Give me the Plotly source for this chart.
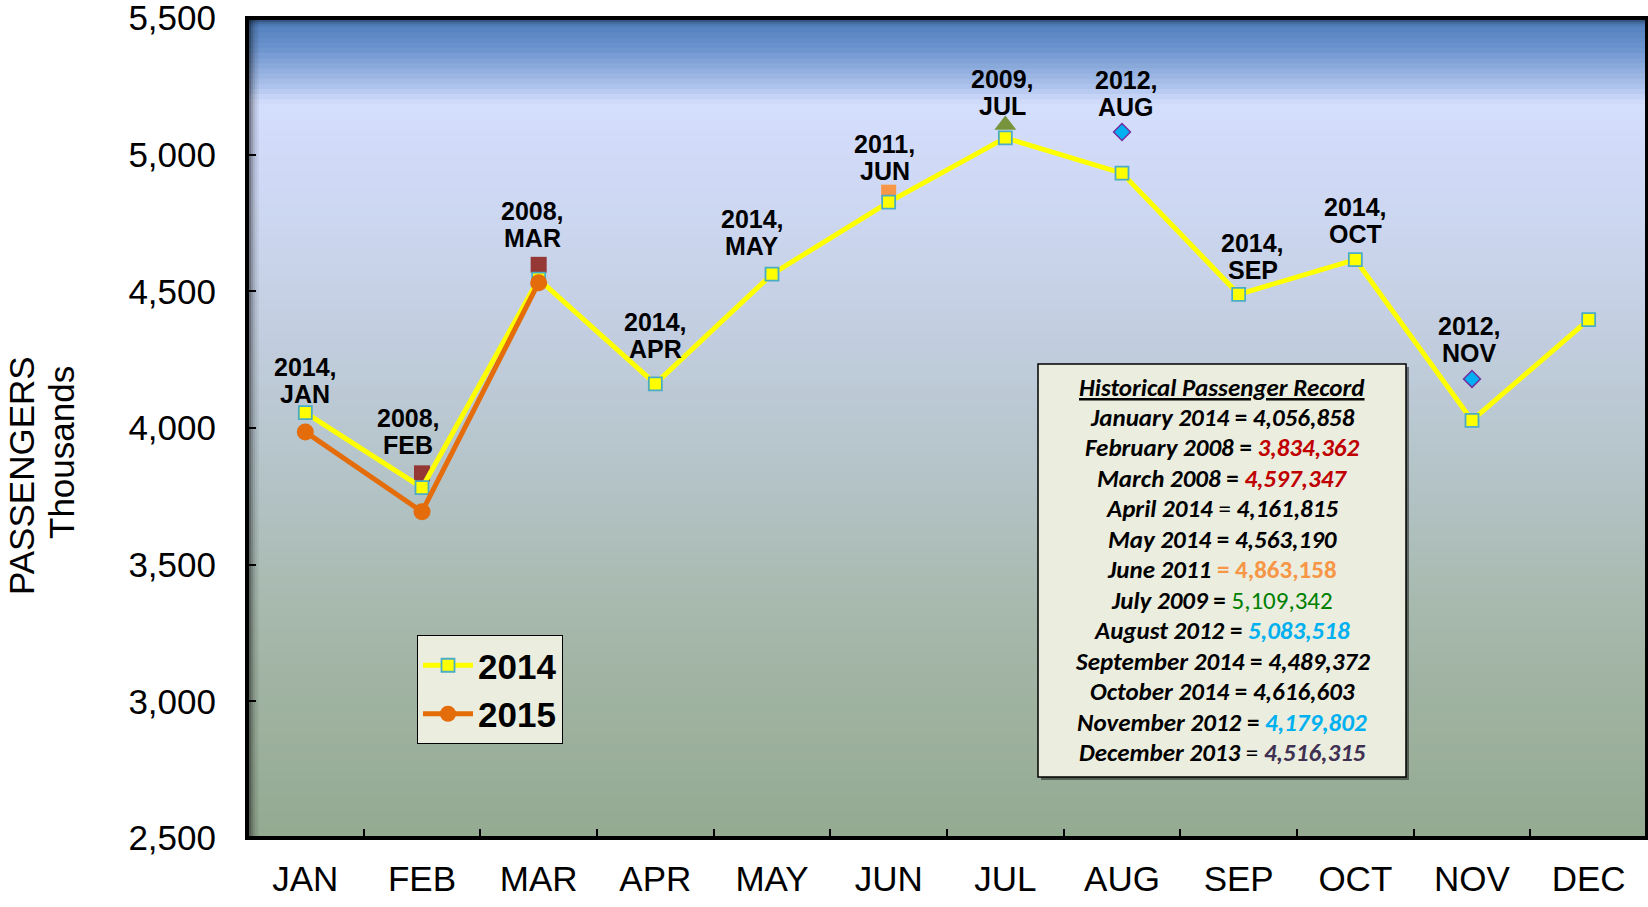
import plotly.graph_objects as go

# ---------------- data ----------------
months = ["JAN", "FEB", "MAR", "APR", "MAY", "JUN", "JUL", "AUG", "SEP", "OCT", "NOV", "DEC"]
pax_2014 = [4056.858, 3782, 4545, 4161.815, 4563.190, 4827, 5062, 4933, 4489.372, 4616.603, 4028, 4397]
pax_2015 = [3986, 3694, 4532]

record_month_names = ["January", "February", "March", "April", "May", "June", "July",
                      "August", "September", "October", "November", "December"]
record_years = [2014, 2008, 2008, 2014, 2014, 2011, 2009, 2012, 2014, 2014, 2012, 2013]
record_values = [4056858, 3834362, 4597347, 4161815, 4563190, 4863158, 5109342,
                 5083518, 4489372, 4616603, 4179802, 4516315]

# ---------------- layout geometry (pixels) ----------------
W, H = 1648, 907
L, R, T, B = 247, 1, 18, 69
PW, PH = W - L - R, H - T - B


def px_x(x):                # page x -> paper
    return (x - L) / PW


def px_y(y):                # page y -> paper
    return (H - B - y) / PH


FONT = "Liberation Sans, Arial, sans-serif"

fig = go.Figure()

# ---- record markers (years other than 2014; Dec 2013 is not plotted) ----
year_style = {
    2008: dict(symbol="square", color="#953735", size=16, line=dict(width=0)),
    2011: dict(symbol="square", color="#F79646", size=15, line=dict(width=0)),
    2009: dict(symbol="triangle-up", color="#77933C", size=19, line=dict(width=0)),
    2012: dict(symbol="diamond", color="#00B0F0", size=13, line=dict(color="#7030A0", width=1.5)),
}
for yr, st in year_style.items():
    xs = [months[i] for i in range(12) if record_years[i] == yr]
    ys = [record_values[i] / 1000 for i in range(12) if record_years[i] == yr]
    fig.add_trace(go.Scatter(x=xs, y=ys, mode="markers", marker=st,
                             showlegend=False, hoverinfo="skip"))

fig.add_trace(go.Scatter(
    x=months, y=pax_2014, mode="lines+markers", name="<b>2014</b>",
    line=dict(color="#FFFF00", width=5),
    marker=dict(symbol="square", size=13, color="#FFFF00",
                line=dict(color="#4BACC6", width=1.8)),
))
fig.add_trace(go.Scatter(
    x=months[:len(pax_2015)], y=pax_2015, mode="lines+markers", name="<b>2015</b>",
    line=dict(color="#E46C0A", width=5),
    marker=dict(symbol="circle", size=17, color="#E46C0A"),
))

# ---------------- background gradient ----------------
stops = [
    (0.000, (0x4A, 0x7A, 0xB9)),
    (0.040, (0x6E, 0x95, 0xCE)),
    (0.085, (0xAE, 0xC3, 0xEC)),
    (0.105, (0xD4, 0xDE, 0xFD)),
    (0.200, (0xCF, 0xD9, 0xF5)),
    (0.350, (0xC5, 0xD0, 0xE4)),
    (0.550, (0xB5, 0xC4, 0xC9)),
    (0.750, (0xA5, 0xB7, 0xA9)),
    (1.000, (0x94, 0xAA, 0x91)),
]


def color_at(t):
    for (t0, c0), (t1, c1) in zip(stops[:-1], stops[1:]):
        if t0 <= t <= t1:
            f = (t - t0) / (t1 - t0) if t1 > t0 else 0
            return "rgb(%d,%d,%d)" % tuple(round(a + (b - a) * f) for a, b in zip(c0, c1))
    return "rgb(%d,%d,%d)" % stops[-1][1]


shapes = []
N = 160
for k in range(N):
    t0, t1 = k / N, (k + 1) / N
    shapes.append(dict(type="rect", xref="x domain", yref="y domain", x0=0, x1=1,
                       y0=1 - t1, y1=1 - t0 + 0.001, fillcolor=color_at((t0 + t1) / 2),
                       line=dict(width=0), layer="below"))
# inner shadow (left and top)
for j, op in enumerate([0.45, 0.3, 0.18, 0.1, 0.05]):
    shapes.append(dict(type="rect", xref="x domain", yref="y domain",
                       x0=(2 + j * 2) / PW, x1=(2 + (j + 1) * 2) / PW, y0=0, y1=1,
                       fillcolor="black", opacity=op, line=dict(width=0), layer="below"))
for j, op in enumerate([0.3, 0.15, 0.06]):
    shapes.append(dict(type="rect", xref="x domain", yref="y domain",
                       x0=0, x1=1, y0=1 - (2 + (j + 1) * 2) / PH, y1=1 - (2 + j * 2) / PH,
                       fillcolor="black", opacity=op, line=dict(width=0), layer="below"))
# plot frame (centred on the plot edges)
shapes.append(dict(type="rect", xref="x domain", yref="y domain", x0=0, x1=1, y0=0, y1=1,
                   line=dict(color="black", width=4), fillcolor="rgba(0,0,0,0)", layer="above"))

# record box (shadow + box)
bx0, bx1, by0, by1 = 1038, 1406, 364, 777
shapes.append(dict(type="rect", xref="paper", yref="paper",
                   x0=px_x(bx0 + 3), x1=px_x(bx1 + 3), y0=px_y(by1 + 3), y1=px_y(by0 + 3),
                   fillcolor="rgba(0,0,0,0.45)", line=dict(width=0), layer="above"))
shapes.append(dict(type="rect", xref="paper", yref="paper",
                   x0=px_x(bx0), x1=px_x(bx1), y0=px_y(by1), y1=px_y(by0),
                   fillcolor="#EBEEDF", line=dict(color="black", width=1.5), layer="above"))

annotations = []

# ---------------- point labels ----------------
label_dy = [19, 28, 27, 35, 28, 21, 19, 25, 24, 26, 26]
label_dx = [0, -14, -6, 0, -20, -4, -3, 4, 14, 0, -3]
for i in range(11):
    yv = record_values[i] / 1000
    for txt, extra in ((months[i], 0), (f"{record_years[i]},", 27)):
        annotations.append(dict(
            x=months[i], y=yv, xref="x", yref="y", text=f"<b>{txt}</b>",
            showarrow=False, yanchor="middle", xanchor="center",
            yshift=label_dy[i] + extra, xshift=label_dx[i],
            font=dict(family=FONT, size=25, color="black")))

# ---------------- record box text ----------------
num_style = {
    1: ("#C00000", True, True), 2: ("#C00000", True, True),
    5: ("#F79646", True, False), 6: ("#008000", False, False),
    7: ("#00B0F0", True, True), 10: ("#00B0F0", True, True),
    11: ("#403152", True, True),
}
BOXFONT = "Carlito, Lato, sans-serif"
BOXSIZE = 25
cx = px_x((bx0 + bx1) / 2)
annotations.append(dict(x=cx, y=px_y(388), xref="paper", yref="paper",
                        xanchor="center", yanchor="middle",
                        text="<b><i><u>Historical Passenger Record</u></i></b>",
                        showarrow=False, font=dict(family=BOXFONT, size=BOXSIZE, color="black")))
for i in range(12):
    col, bold, ital = num_style.get(i, ("black", True, True))
    num = f"{record_values[i]:,}"
    if i == 5:
        num = "= " + num
    if bold:
        num = f"<b>{num}</b>"
    if ital:
        num = f"<i>{num}</i>"
    if i == 5:
        rhs = f"<span style='color:{col}'>{num}</span>"
    else:
        eq = "<b>=</b>" if i not in (3, 11) else "="
        rhs = f"{eq} <span style='color:{col}'>{num}</span>"
    txt = f"<b><i>{record_month_names[i]} {record_years[i]}</i></b> {rhs}"
    annotations.append(dict(x=cx, y=px_y(417.2 + 30.48 * i), xref="paper", yref="paper",
                            xanchor="center", yanchor="middle",
                            text=txt, showarrow=False,
                            font=dict(family=BOXFONT, size=BOXSIZE, color="black")))

# ---------------- axis title ----------------
annotations.append(dict(x=px_x(21), y=px_y(476), xref="paper", yref="paper",
                        xanchor="center", yanchor="middle",
                        text="PASSENGERS", textangle=-90, showarrow=False,
                        font=dict(family=FONT, size=35, color="black")))
annotations.append(dict(x=px_x(61), y=px_y(452), xref="paper", yref="paper",
                        xanchor="center", yanchor="middle",
                        text="Thousands", textangle=-90, showarrow=False,
                        font=dict(family=FONT, size=35, color="black")))

fig.update_layout(
    width=W, height=H,
    margin=dict(l=L, r=R, t=T, b=B, autoexpand=False),
    paper_bgcolor="white", plot_bgcolor="#C5D0E4",
    shapes=shapes, annotations=annotations,
    showlegend=True,
    legend=dict(x=px_x(417), y=px_y(635), xanchor="left", yanchor="top",
                bgcolor="#EBEEDF", bordercolor="black", borderwidth=1,
                font=dict(family=FONT, size=35, color="black"),
                itemwidth=50, tracegroupgap=0),
    xaxis=dict(type="category", categoryorder="array", categoryarray=months,
               range=[-0.5, 11.5], tickson="boundaries", ticks="inside", ticklen=9,
               tickwidth=1.5, tickcolor="black", showgrid=False, zeroline=False,
               showline=False,
               tickfont=dict(family=FONT, size=35, color="black"),
               ticklabelstandoff=17, ticklabeloverflow="allow"),
    yaxis=dict(range=[2500, 5500.5], tickvals=[2500, 3000, 3500, 4000, 4500, 5000, 5500],
               tickformat=",", ticks="inside", ticklen=9,
               tickwidth=1.5, tickcolor="black", showgrid=False, zeroline=False,
               showline=False,
               tickfont=dict(family=FONT, size=35, color="black"),
               ticklabelstandoff=30, ticklabeloverflow="allow"),
)

fig.write_html("out.html", config={"displayModeBar": False},
               post_script="document.body.style.margin='0';")
